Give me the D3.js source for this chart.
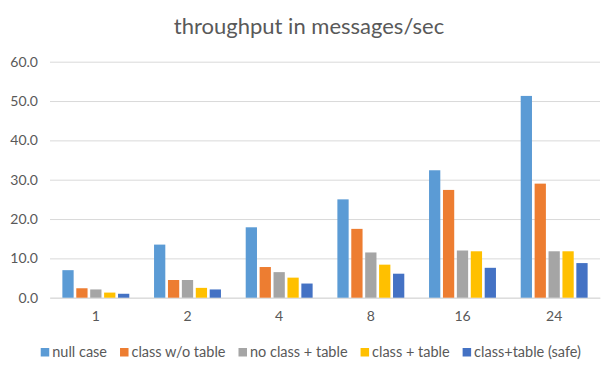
<!DOCTYPE html>
<html><head><meta charset="utf-8">
<script src="https://cdn.jsdelivr.net/npm/d3@7"></script>
<style>body{margin:0;background:#fff}</style>
</head><body>
<svg id="c" width="615" height="369"></svg>
<script>
const categories = ["1","2","4","8","16","24"];
const seriesNames = ["null case","class w/o table","no class + table","class + table","class+table (safe)"];
const nullCase = [7.0,13.5,17.9,25.0,32.4,51.3];
const classNoTable = [2.4,4.5,7.8,17.5,27.4,29.0];
const noClassTable = [2.1,4.5,6.5,11.5,12.0,11.8];
const classTable = [1.3,2.5,5.1,8.4,11.8,11.8];
const classTableSafe = [1.0,2.1,3.6,6.1,7.6,8.8];
const yTicks = [0,10,20,30,40,50,60];
const colors = ["#5B9BD5","#ED7D31","#A5A5A5","#FFC000","#4472C4"];
const seriesValues = [nullCase,classNoTable,noClassTable,classTable,classTableSafe];

const svg = d3.select("#c");
const font = "Lato, 'Open Sans', sans-serif";
const L=50,R=600,T=61.7,B=297.7;
const x = d3.scaleBand().domain(categories).range([L,R]).paddingInner(0.27).paddingOuter(0.135);
const xs = d3.scaleBand().domain(d3.range(seriesNames.length)).range([0,x.bandwidth()]).paddingInner(0.19);
const y = d3.scaleLinear().domain([0,60]).range([B,T]);

const title = svg.append("text").attr("x",309).attr("y",34).attr("text-anchor","middle")
  .attr("font-family",font).attr("font-size",22).attr("fill","#595959").text("throughput in messages/sec");

const ga = svg.append("g").attr("transform",`translate(${L},0)`)
  .call(d3.axisLeft(y).tickValues(yTicks).tickSize(-(R-L)).tickFormat(d3.format(".1f")).tickPadding(12));
ga.select(".domain").remove();
ga.selectAll(".tick line").attr("stroke","#D9D9D9").attr("stroke-width",1);
ga.selectAll(".tick text").attr("font-family",font).attr("font-size",14).attr("fill","#595959");

const gx = svg.append("g").attr("transform",`translate(0,${B})`)
  .call(d3.axisBottom(x).tickSize(0).tickPadding(13));
gx.select(".domain").attr("stroke","#D9D9D9");
gx.selectAll(".tick text").attr("font-family",font).attr("font-size",14).attr("fill","#595959");

seriesValues.forEach((vals,si)=>{
  svg.append("g").selectAll("rect").data(vals).join("rect")
    .attr("x",(d,i)=>x(categories[i])+xs(si))
    .attr("width",xs.bandwidth())
    .attr("y",d=>y(d))
    .attr("height",d=>y(0)-y(d))
    .attr("fill",colors[si]);
});

const lg = svg.append("g");
let cx = 0;
seriesNames.forEach((n,i)=>{
  const g = lg.append("g");
  g.append("rect").attr("x",0).attr("y",-4).attr("width",8.5).attr("height",8.5).attr("fill",colors[i]);
  const t = g.append("text").attr("x",11.5).attr("y",0).attr("dy","0.35em").attr("font-family",font)
    .attr("font-size",14.5).attr("fill","#595959").text(n);
  g.attr("transform",`translate(${cx},352)`);
  cx += 11.5 + t.node().getComputedTextLength() + 13;
});
const total = cx - 13;
lg.attr("transform",`translate(${(41.7+580) / 2 - total/2},0)`);
</script>
</body></html>
